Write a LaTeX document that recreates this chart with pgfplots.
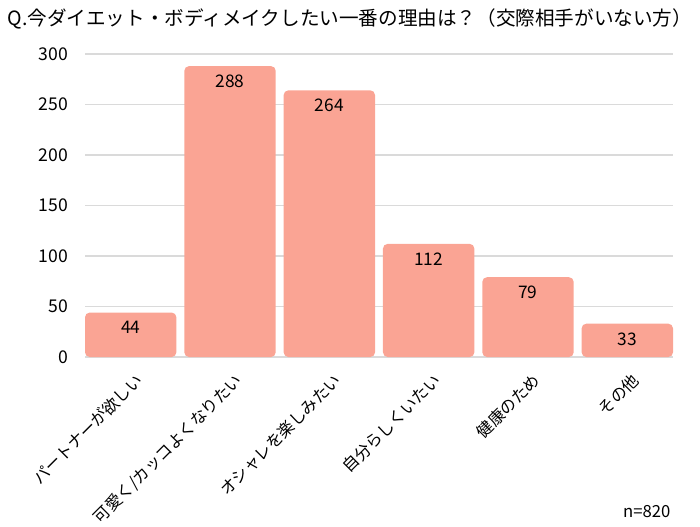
\documentclass[border=0pt]{standalone}
\usepackage{pgfplots}
\pgfplotsset{compat=1.18}
\usepackage{fontspec}
\setmainfont{Noto Sans CJK JP}
\definecolor{barc}{RGB}{250,164,148}
\definecolor{gridc}{RGB}{218,218,218}
\begin{document}
\begin{tikzpicture}
\path[use as bounding box] (0,0) rectangle (525pt,394.5pt);
\node[anchor=west, inner sep=0pt, font=\fontsize{14.7}{16}\selectfont] at (5.5pt,380pt) {Q.今ダイエット・ボディメイクしたい一番の理由は？（交際相手がいない方）};
\node[anchor=east, inner sep=0pt, font=\fontsize{12.5}{14}\selectfont] at (503pt,10.5pt) {n=820};
\begin{axis}[
  at={(63.75pt,126.75pt)}, anchor=south west,
  scale only axis, width=441pt, height=227.25pt,
  xmin=-0.46, xmax=5.46, ymin=0, ymax=300,
  ybar, bar width=0.92,
  axis line style={draw=none},
  major tick length=0pt,
  ymajorgrids, grid style={gridc, line width=0.9pt},
  ytick={0,50,...,300},
  xtick={0,...,5},
  xticklabels={パートナーが欲しい,可愛く/カッコよくなりたい,オシャレを楽しみたい,自分らしくいたい,健康のため,その他},
  /pgf/number format/assume math mode=true,
  yticklabel style={font=\fontsize{13.2}{14}\selectfont, anchor=east, inner sep=0pt, xshift=-12.5pt},
  xticklabel style={font=\fontsize{12.2}{14}\selectfont, rotate=45, anchor=north east, inner sep=0pt, xshift=-5.9pt, yshift=-9.6pt},
  nodes near coords,
  every node near coord/.append style={font=\fontsize{13}{14}\selectfont, anchor=north, inner sep=0pt, yshift=-6.5pt, black},
]
\addplot[fill=barc, draw=none, rounded corners=3.5pt] coordinates {(0,44) (1,288) (2,264) (3,112) (4,79) (5,33)};
\end{axis}
\end{tikzpicture}
\end{document}
